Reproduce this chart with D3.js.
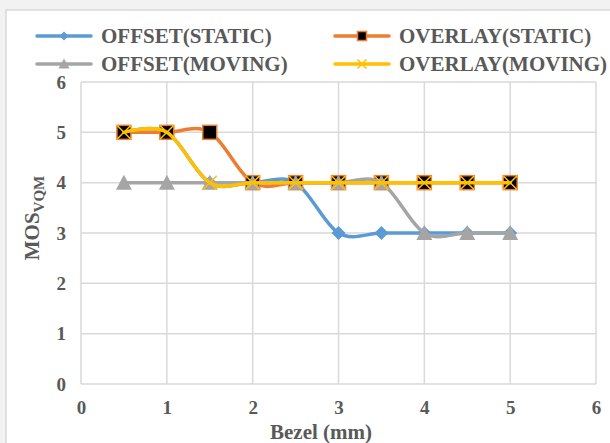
<!DOCTYPE html>
<html>
<head>
<meta charset="utf-8">
<script src="https://cdn.jsdelivr.net/npm/d3@7/dist/d3.min.js"></script>
<style>
  html, body { margin: 0; padding: 0; background: #f2f2f2; }
  svg { display: block; }
</style>
</head>
<body>
<svg id="chart" width="610" height="443"></svg>
<script>
// Bezel width (mm) on x, MOS(VQM) on y
const bezel = [0.5, 1, 1.5, 2, 2.5, 3, 3.5, 4, 4.5, 5];
const offsetStatic  = [5, 5, 4, 4, 4, 3, 3, 3, 3, 3];
const overlayStatic = [5, 5, 5, 4, 4, 4, 4, 4, 4, 4];
const offsetMoving  = [4, 4, 4, 4, 4, 4, 4, 3, 3, 3];
const overlayMoving = [5, 5, 4, 4, 4, 4, 4, 4, 4, 4];
const xTicks = [0, 1, 2, 3, 4, 5, 6];
const yTicks = [0, 1, 2, 3, 4, 5, 6];
const seriesNames = ["OFFSET(STATIC)", "OVERLAY(STATIC)", "OFFSET(MOVING)", "OVERLAY(MOVING)"];

const series = [
  { name: seriesNames[0], values: offsetStatic,  color: "#5B9BD5", marker: "diamond" },
  { name: seriesNames[1], values: overlayStatic, color: "#ED7D31", marker: "square" },
  { name: seriesNames[2], values: offsetMoving,  color: "#A5A5A5", marker: "triangle" },
  { name: seriesNames[3], values: overlayMoving, color: "#FFC000", marker: "cross" }
];

const svg = d3.select("#chart");
const textColor = "#595959";
const font = "'Liberation Serif', 'Times New Roman', serif";

// chart frame
svg.append("rect").attr("x", 6).attr("y", 10).attr("width", 610).attr("height", 440)
  .attr("fill", "#ffffff").attr("stroke", "#d9d9d9").attr("stroke-width", 1.5);

const x = d3.scaleLinear().domain([0, 6]).range([81, 596]);
const y = d3.scaleLinear().domain([0, 6]).range([384, 82]);

// gridlines
const grid = svg.append("g");
grid.selectAll("line.h").data(yTicks).join("line")
  .attr("x1", x(0)).attr("x2", x(6))
  .attr("y1", d => y(d)).attr("y2", d => y(d))
  .attr("stroke", "#d9d9d9").attr("stroke-width", 1.5);
grid.selectAll("line.v").data(xTicks).join("line")
  .attr("y1", y(0)).attr("y2", y(6))
  .attr("x1", d => x(d)).attr("x2", d => x(d))
  .attr("stroke", "#d9d9d9").attr("stroke-width", 1.5);

// axes (labels only)
const xAxis = svg.append("g").attr("transform", `translate(0,${y(0)})`)
  .call(d3.axisBottom(x).tickValues(xTicks).tickFormat(d3.format("d")).tickSize(0).tickPadding(17));
const yAxis = svg.append("g").attr("transform", `translate(${x(0)},0)`)
  .call(d3.axisLeft(y).tickValues(yTicks).tickFormat(d3.format("d")).tickSize(0).tickPadding(15));
[xAxis, yAxis].forEach(a => {
  a.select(".domain").remove();
  a.selectAll("text").attr("fill", textColor).attr("font-family", font)
    .attr("font-weight", "bold").attr("font-size", 19);
});

// axis titles
svg.append("text").attr("x", 321).attr("y", 439)
  .attr("text-anchor", "middle").attr("fill", textColor).attr("font-family", font)
  .attr("font-weight", "bold").attr("font-size", 21).text("Bezel (mm)");

const yTitle = svg.append("text")
  .attr("transform", `translate(39,218) rotate(-90)`)
  .attr("text-anchor", "middle").attr("fill", textColor).attr("font-family", font)
  .attr("font-weight", "bold").attr("font-size", 21);
yTitle.append("tspan").text("MOS");
yTitle.append("tspan").attr("font-size", 15).attr("dy", 5).text("VQM");

// smoothed lines
const line = d3.line()
  .x((d, i) => x(bezel[i]))
  .y(d => y(d))
  .curve(d3.curveCatmullRom.alpha(0));

function drawMarker(g, type, color, size) {
  const s = size;
  if (type === "diamond") {
    g.append("path").attr("d", `M0,${-s/2}L${s/2},0L0,${s/2}L${-s/2},0Z`).attr("fill", color);
  } else if (type === "square") {
    g.append("rect").attr("x", -s/2).attr("y", -s/2).attr("width", s).attr("height", s)
      .attr("fill", "#000000").attr("stroke", "#ED7D31").attr("stroke-width", 1.5);
  } else if (type === "triangle") {
    g.append("path").attr("d", `M0,${-s/2 - 1}L${s/2 + 1},${s/2}L${-s/2 - 1},${s/2}Z`).attr("fill", color);
  } else if (type === "cross") {
    g.append("path").attr("d", `M${-s/2},${-s/2}L${s/2},${s/2}M${s/2},${-s/2}L${-s/2},${s/2}`)
      .attr("stroke", color).attr("stroke-width", 1.5).attr("fill", "none");
  }
}

series.forEach(s => {
  const g = svg.append("g");
  g.append("path").datum(s.values).attr("d", line)
    .attr("fill", "none").attr("stroke", s.color).attr("stroke-width", 3.5)
    .attr("stroke-linecap", "round");
  s.values.forEach((v, i) => {
    const m = g.append("g").attr("transform", `translate(${x(bezel[i])},${y(v)})`);
    drawMarker(m, s.marker, s.color, 14);
  });
});

// legend
const legendPos = [[37, 36], [335, 36], [37, 64], [335, 64]];
series.forEach((s, i) => {
  const [lx, ly] = legendPos[i];
  const g = svg.append("g").attr("transform", `translate(${lx},${ly})`);
  g.append("line").attr("x1", 0).attr("x2", 54).attr("y1", 0).attr("y2", 0)
    .attr("stroke", s.color).attr("stroke-width", 3.5).attr("stroke-linecap", "round");
  const m = g.append("g").attr("transform", "translate(27,0)");
  drawMarker(m, s.marker, s.color, 9);
  g.append("text").attr("x", 64).attr("y", 7)
    .attr("fill", textColor).attr("font-family", font).attr("font-weight", "bold")
    .attr("font-size", 21).text(s.name);
});
</script>
</body>
</html>
